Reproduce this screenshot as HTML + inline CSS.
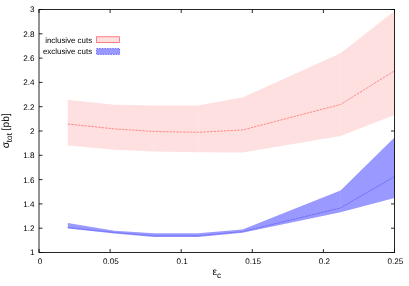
<!DOCTYPE html>
<html><head><meta charset="utf-8"><style>
html,body{margin:0;padding:0;background:#fff;}
svg{display:block;font-family:"Liberation Sans",sans-serif;text-rendering:geometricPrecision;will-change:transform;}
</style></head><body>
<svg width="409" height="286" viewBox="0 0 409 286">
<rect width="409" height="286" fill="#fff"/>
<g stroke="#000" stroke-width="0.85" fill="none">
<path d="M39.0 252.5h3.5M394.5 252.5h-3.5"/><path d="M39.0 228.2h3.5M394.5 228.2h-3.5"/><path d="M39.0 203.9h3.5M394.5 203.9h-3.5"/><path d="M39.0 179.6h3.5M394.5 179.6h-3.5"/><path d="M39.0 155.3h3.5M394.5 155.3h-3.5"/><path d="M39.0 131.0h3.5M394.5 131.0h-3.5"/><path d="M39.0 106.7h3.5M394.5 106.7h-3.5"/><path d="M39.0 82.4h3.5M394.5 82.4h-3.5"/><path d="M39.0 58.1h3.5M394.5 58.1h-3.5"/><path d="M39.0 33.8h3.5M394.5 33.8h-3.5"/><path d="M39.0 9.5h3.5M394.5 9.5h-3.5"/><path d="M39.0 252.5v-3.5M39.0 9.5v3.5"/><path d="M110.1 252.5v-3.5M110.1 9.5v3.5"/><path d="M181.2 252.5v-3.5M181.2 9.5v3.5"/><path d="M252.3 252.5v-3.5M252.3 9.5v3.5"/><path d="M323.4 252.5v-3.5M323.4 9.5v3.5"/><path d="M394.5 252.5v-3.5M394.5 9.5v3.5"/>
</g>
<polygon points="67.8,99.7 114.5,104.7 154.2,105.5 198.0,105.5 242.5,97.4 340.5,53.3 394.5,11.0 394.5,115.1 340.5,136.0 242.5,152.5 198.0,152.3 154.2,151.4 114.5,149.7 67.8,145.6" fill="#ffe0e0"/>
<path d="M114.5 105.2V149.2" stroke="#fff" stroke-opacity="0.1" stroke-width="1.4" fill="none"/><path d="M154.2 106.0V150.9" stroke="#fff" stroke-opacity="0.1" stroke-width="1.4" fill="none"/><path d="M198.0 106.0V151.8" stroke="#fff" stroke-opacity="0.1" stroke-width="1.4" fill="none"/><path d="M242.5 97.9V152.0" stroke="#fff" stroke-opacity="0.1" stroke-width="1.4" fill="none"/><path d="M340.5 53.8V135.5" stroke="#fff" stroke-opacity="0.1" stroke-width="1.4" fill="none"/>
<polyline points="67.8,124.0 114.5,128.9 154.2,131.5 198.0,132.3 242.5,130.0 340.5,104.5 394.5,70.8" fill="none" stroke="#ff4040" stroke-width="0.55" stroke-dasharray="2.4 1"/>
<polygon points="67.8,223.0 114.5,230.7 154.2,233.3 198.0,233.3 242.5,229.4 340.5,190.4 394.5,137.4 394.5,197.9 340.5,212.3 242.5,232.8 198.0,236.9 154.2,236.9 114.5,233.6 67.8,228.4" fill="#9999ff"/>
<path d="M114.5 231.2V233.1" stroke="#fff" stroke-opacity="0.06" stroke-width="1.4" fill="none"/><path d="M154.2 233.8V236.4" stroke="#fff" stroke-opacity="0.06" stroke-width="1.4" fill="none"/><path d="M198.0 233.8V236.4" stroke="#fff" stroke-opacity="0.06" stroke-width="1.4" fill="none"/><path d="M242.5 229.9V232.3" stroke="#fff" stroke-opacity="0.06" stroke-width="1.4" fill="none"/><path d="M340.5 190.9V211.8" stroke="#fff" stroke-opacity="0.06" stroke-width="1.4" fill="none"/>
<polyline points="67.8,227.5 114.5,232.5 154.2,235.8 198.0,235.8 242.5,231.6 340.5,208.0 394.5,176.6" fill="none" stroke="#4848ee" stroke-width="0.5" stroke-dasharray="2.6 0.6"/>
<rect x="39.0" y="9.5" width="355.5" height="243.0" stroke="#000" stroke-width="0.85" fill="none"/>
<g font-size="8.1" fill="#000">
<text x="34.4" y="255.4" text-anchor="end">1</text><text x="34.4" y="231.1" text-anchor="end">1.2</text><text x="34.4" y="206.8" text-anchor="end">1.4</text><text x="34.4" y="182.5" text-anchor="end">1.6</text><text x="34.4" y="158.2" text-anchor="end">1.8</text><text x="34.4" y="133.9" text-anchor="end">2</text><text x="34.4" y="109.6" text-anchor="end">2.2</text><text x="34.4" y="85.3" text-anchor="end">2.4</text><text x="34.4" y="61.0" text-anchor="end">2.6</text><text x="34.4" y="36.7" text-anchor="end">2.8</text><text x="34.4" y="12.4" text-anchor="end">3</text>
<text x="39.9" y="263.8" text-anchor="middle">0</text><text x="111.0" y="263.8" text-anchor="middle">0.05</text><text x="182.1" y="263.8" text-anchor="middle">0.1</text><text x="253.2" y="263.8" text-anchor="middle">0.15</text><text x="324.3" y="263.8" text-anchor="middle">0.2</text><text x="395.4" y="263.8" text-anchor="middle">0.25</text>
</g>
<g font-size="7.9" fill="#000">
<text x="92.1" y="42.6" text-anchor="end">inclusive cuts</text>
<text x="92.1" y="54.1" text-anchor="end">exclusive cuts</text>
</g>
<rect x="96.6" y="36.8" width="23" height="5.8" fill="#ffe0e0" stroke="#ff5050" stroke-width="0.7"/>
<rect x="96.6" y="48.6" width="23" height="5.8" fill="#9999ff" stroke="#4444ff" stroke-width="0.7" stroke-dasharray="1.6 1"/>
<g transform="translate(9.2,148.2) rotate(-90)" fill="#000"><text x="0" y="0" font-size="10.3">σ</text><text x="6" y="3.1" font-size="8.2">tot</text><text x="17.8" y="0" font-size="10.3">[pb]</text></g>
<text x="212.5" y="275" font-size="10.3" fill="#000">ε</text><text x="217" y="278" font-size="8.2" fill="#000">c</text>
</svg>
</body></html>
